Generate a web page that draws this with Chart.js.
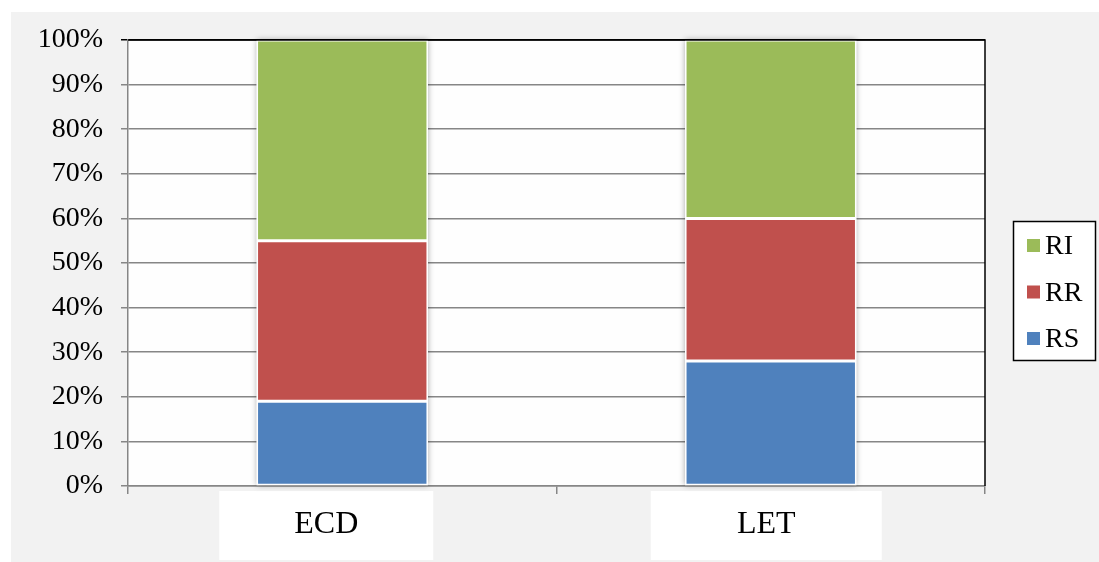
<!DOCTYPE html>
<html>
<head>
<meta charset="utf-8">
<script src="https://cdn.jsdelivr.net/npm/chart.js@4/dist/chart.umd.min.js"></script>
<style>
  html, body { margin: 0; padding: 0; background: #fff; }
  #wrap { width: 1099px; height: 562px; }
</style>
</head>
<body>
<div id="wrap"><canvas id="chart" width="1099" height="562"></canvas></div>
<script>
// data (percent of each column)
var categories = ['ECD', 'LET'];
var rsValues = [19, 28];
var rrValues = [36, 32];
var riValues = [45, 40];
var yTicks = [0, 10, 20, 30, 40, 50, 60, 70, 80, 90, 100];

var colors = {
    RS: '#4F81BD',
    RR: '#C0504D',
    RI: '#9BBB59'
};
var serif = "'Liberation Serif', 'Times New Roman', serif";
// label boxes under the axis, offset from the tick centre
var labelBoxes = [
    { dx: -16, w: 214 },
    { dx: -4.5, w: 231 }
];

var frame = {
    id: 'frame',
    beforeDraw: function(chart) {
        var ctx = chart.ctx, a = chart.chartArea;
        ctx.save();
        ctx.fillStyle = '#fff';
        ctx.fillRect(0, 0, chart.width, chart.height);
        ctx.fillStyle = '#f2f2f2';
        ctx.fillRect(11, 12, chart.width - 11, chart.height - 12);
        ctx.fillStyle = '#fefefe';
        ctx.fillRect(a.left, a.top, a.right - a.left, a.bottom - a.top);
        // white boxes behind the category names
        var xs = chart.scales.x;
        ctx.fillStyle = '#fff';
        categories.forEach(function(c, i) {
            var cx = xs.getPixelForValue(i) + labelBoxes[i].dx;
            ctx.fillRect(cx - labelBoxes[i].w / 2, a.bottom + 5, labelBoxes[i].w, chart.height - a.bottom - 7);
        });
        ctx.restore();
    },
    beforeDatasetsDraw: function(chart) {
        // soft shadow behind each stacked column
        var ctx = chart.ctx;
        var first = chart.getDatasetMeta(0), last = chart.getDatasetMeta(chart.data.datasets.length - 1);
        ctx.save();
        ctx.shadowColor = 'rgba(0,0,0,0.35)';
        ctx.shadowBlur = 6;
        ctx.fillStyle = '#fff';
        first.data.forEach(function(bar, i) {
            var top = last.data[i].y;
            ctx.fillRect(bar.x - bar.width / 2, top, bar.width, bar.base - top);
        });
        ctx.restore();
    },
    afterDraw: function(chart) {
        var ctx = chart.ctx, a = chart.chartArea;
        ctx.save();
        // black top and right edges of the plot
        ctx.strokeStyle = '#000';
        ctx.lineWidth = 1.5;
        ctx.beginPath();
        ctx.moveTo(a.left, a.top);
        ctx.lineTo(a.right, a.top);
        ctx.lineTo(a.right, a.bottom);
        ctx.stroke();

        // category names
        var xs = chart.scales.x;
        ctx.fillStyle = '#000';
        ctx.font = '32px ' + serif;
        ctx.textAlign = 'center';
        ctx.textBaseline = 'alphabetic';
        categories.forEach(function(c, i) {
            ctx.fillText(c, xs.getPixelForValue(i) + labelBoxes[i].dx, 533);
        });

        // legend, top series first
        ctx.fillStyle = '#fff';
        ctx.fillRect(1013, 221, 83, 140);
        ctx.strokeStyle = '#000';
        ctx.lineWidth = 1.5;
        ctx.strokeRect(1013.5, 221.5, 82, 139);
        var sets = chart.data.datasets.slice().reverse();
        ctx.font = '28px ' + serif;
        ctx.textAlign = 'left';
        sets.forEach(function(ds, i) {
            var y = 239 + i * 46.5;
            ctx.fillStyle = ds.backgroundColor;
            ctx.fillRect(1027, y, 13, 13);
            ctx.fillStyle = '#000';
            ctx.fillText(ds.label, 1045, y + 15);
        });
        ctx.restore();
    }
};

new Chart(document.getElementById('chart'), {
    type: 'bar',
    data: {
        labels: categories,
        datasets: [
            { label: 'RS', data: rsValues, backgroundColor: colors.RS },
            { label: 'RR', data: rrValues, backgroundColor: colors.RR },
            { label: 'RI', data: riValues, backgroundColor: colors.RI }
        ]
    },
    options: {
        responsive: false,
        animation: false,
        layout: { padding: { left: 11, top: 40, right: 114, bottom: 0 } },
        datasets: {
            bar: {
                barPercentage: 0.4,
                categoryPercentage: 1,
                borderColor: '#fff',
                borderWidth: 1.5,
                borderSkipped: false
            }
        },
        plugins: {
            legend: { display: false },
            tooltip: { enabled: false }
        },
        scales: {
            x: {
                stacked: true,
                afterFit: function(s) { s.height = 76; },
                grid: {
                    offset: true,
                    drawOnChartArea: false,
                    tickLength: 8,
                    color: '#868686',
                    lineWidth: 1.5
                },
                border: { color: '#868686', width: 1.5 },
                ticks: { display: false }
            },
            y: {
                stacked: true,
                min: 0,
                max: 100,
                afterFit: function(s) { s.width = 117; },
                afterBuildTicks: function(s) {
                    s.ticks = yTicks.map(function(v) { return { value: v }; });
                },
                grid: {
                    tickLength: 7,
                    color: function(c) { return c.tick && c.tick.value === 100 ? '#000' : '#868686'; },
                    lineWidth: 1.5
                },
                border: { color: '#868686', width: 1.5 },
                ticks: {
                    padding: 18,
                    color: '#000',
                    font: { family: serif, size: 28 },
                    callback: function(v) { return v + '%'; }
                }
            }
        }
    },
    plugins: [frame]
});
</script>
</body>
</html>
